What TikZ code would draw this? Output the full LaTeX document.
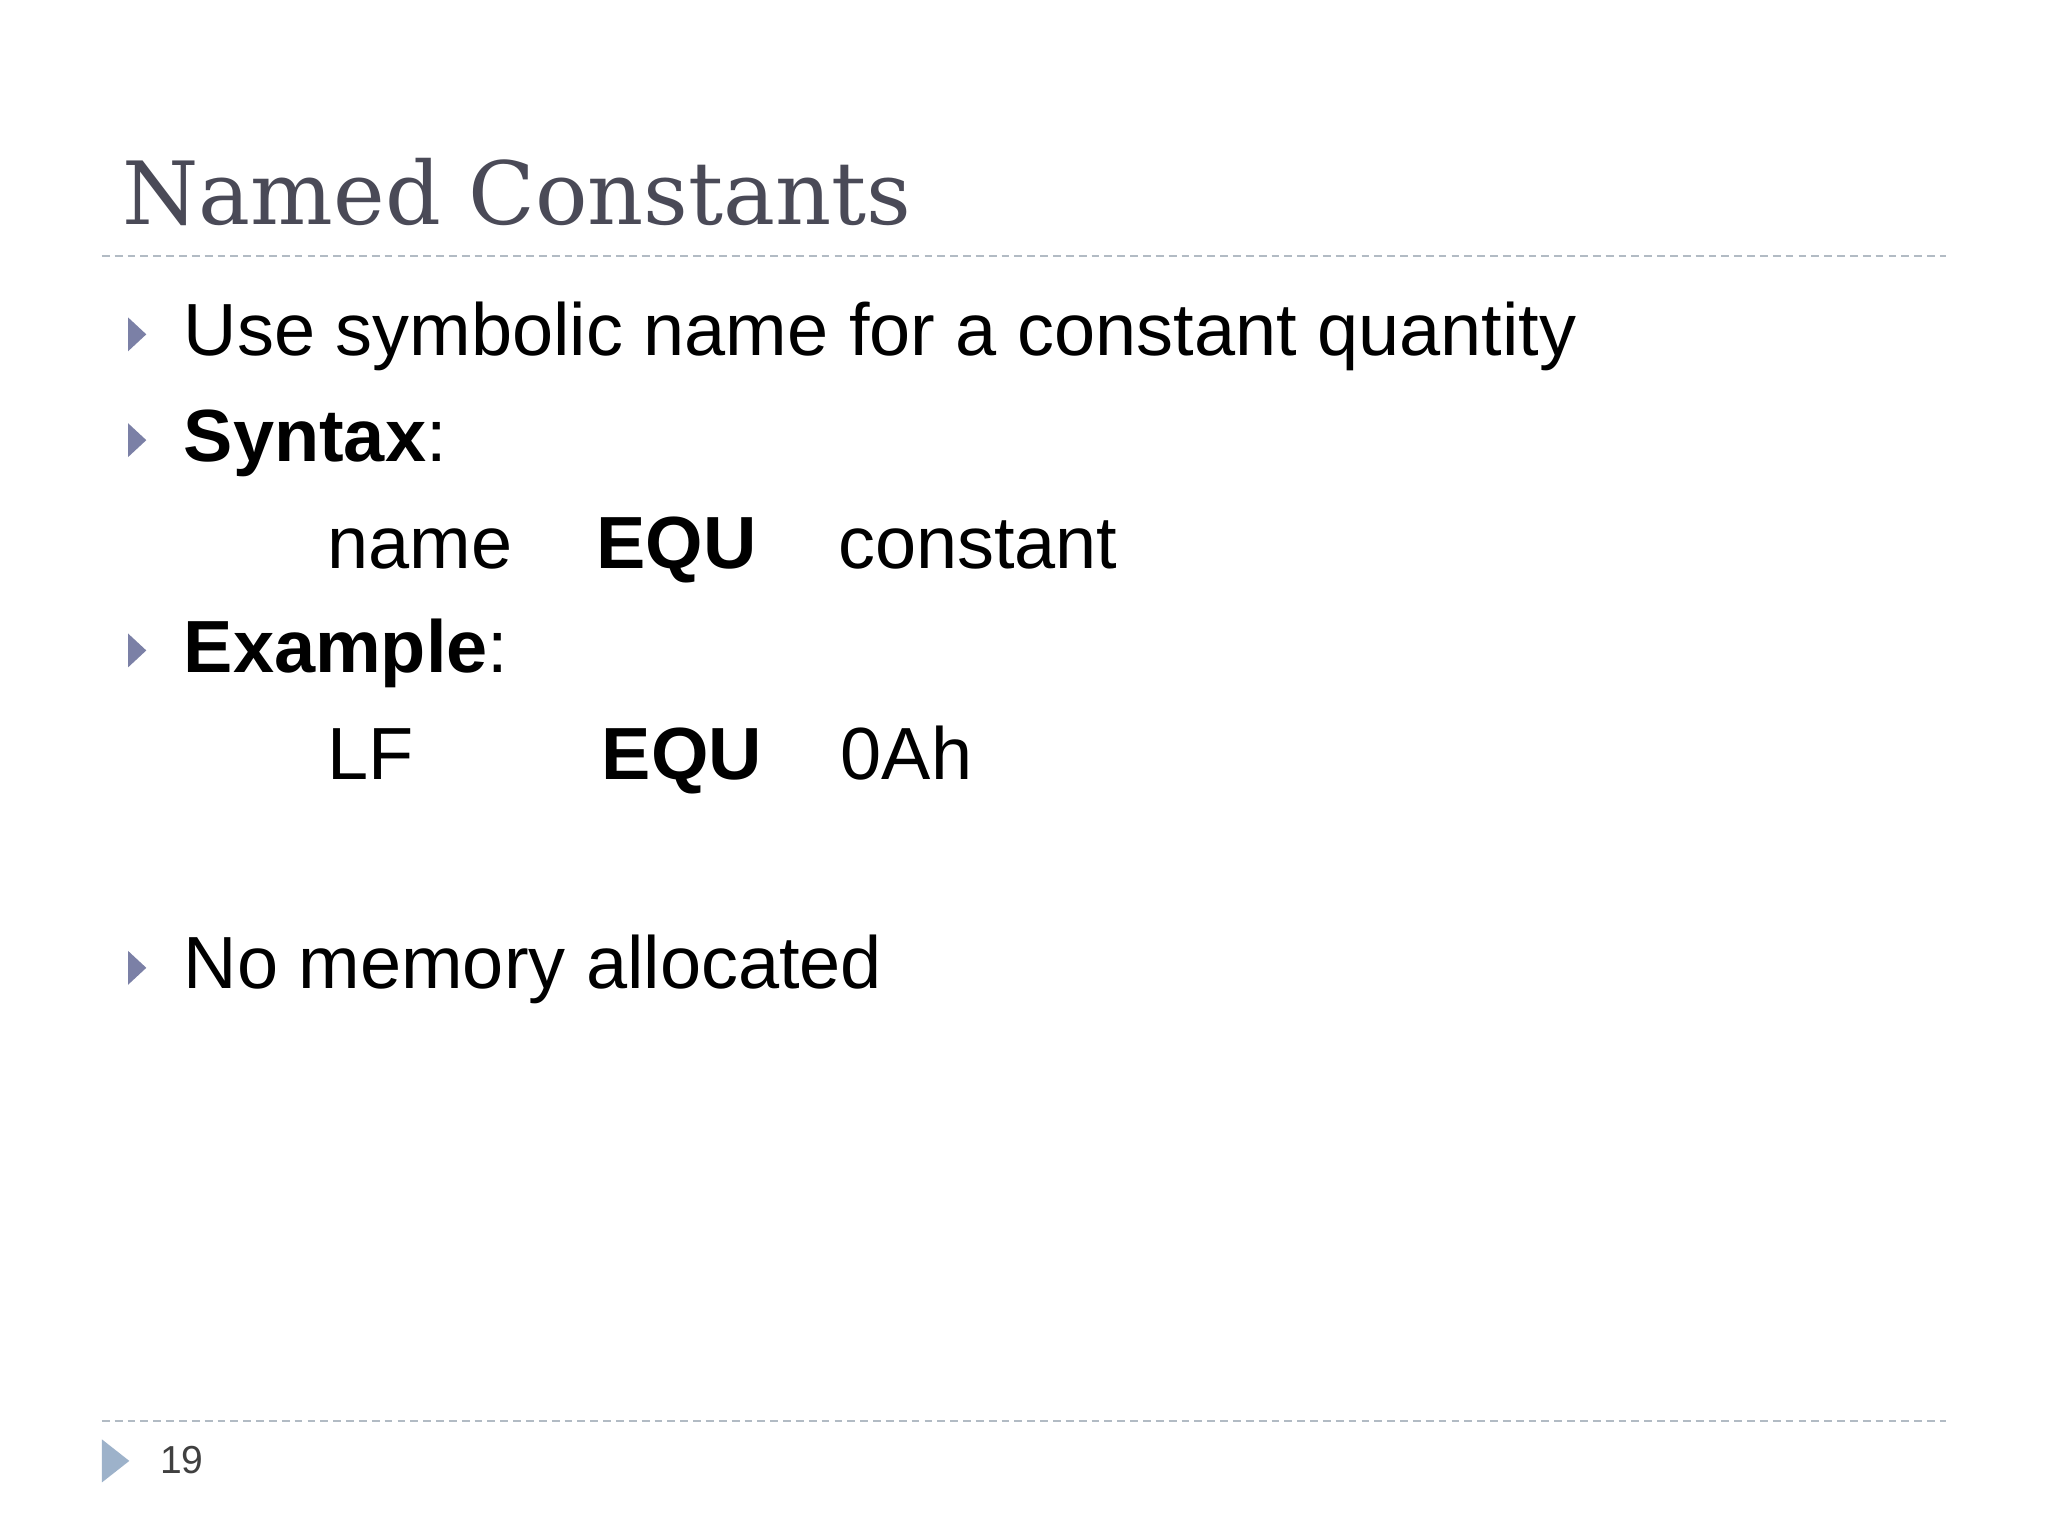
\documentclass[tikz,border=0pt]{standalone}
\usepackage{fontspec}
\setmainfont{Liberation Sans}
\newfontfamily\titlefont{DejaVu Serif}
\definecolor{titlegrey}{HTML}{4A4A57}
\definecolor{bulletblue}{HTML}{7B80A6}
\definecolor{rulegrey}{HTML}{B2BBC4}
\definecolor{footblue}{HTML}{9DB2CA}
\definecolor{numgrey}{HTML}{404040}
\begin{document}
\begin{tikzpicture}
\tikzset{every node/.style={inner sep=0pt,anchor=base west},
  body/.style={font=\fontsize{16.1}{19}\selectfont},
  rulerline/.style={draw=rulegrey,line width=0.5pt,dash pattern=on 1.7pt off 1.1pt}}
\useasboundingbox[fill=white] (0,0) rectangle (15.68,-11.76);
% title and rules
\node[font=\titlefont\fontsize{19}{22}\selectfont,text=titlegrey] (title) at (0.93,-1.72) {Named Constants};
\coordinate (topL) at (0.78,-1.96);
\coordinate (topR) at (14.90,-1.96);
\coordinate (botL) at (0.78,-10.88);
\coordinate (botR) at (14.90,-10.88);
\draw[rulerline] (topL) -- (topR);
\draw[rulerline] (botL) -- (botR);
% bullets
\foreach \y in {2.56,3.37,4.98,7.41}
  \fill[bulletblue] (0.98,-\y+0.13) -- (1.12,-\y) -- (0.98,-\y-0.13) -- cycle;
\node[body] (use) at (1.40,-2.72) {Use symbolic name for a constant quantity};
\node[body] (syntax) at (1.40,-3.53) {\textbf{Syntax}:};
\node[body] (sname) at (2.50,-4.35) {name};
\node[body] (sequ) at (4.56,-4.35) {\textbf{EQU}};
\node[body] (sconst) at (6.41,-4.35) {constant};
\node[body] (example) at (1.40,-5.15) {\textbf{Example}:};
\node[body] (lf) at (2.50,-5.97) {LF};
\node[body] (lfequ) at (4.60,-5.97) {\textbf{EQU}};
\node[body] (lfval) at (6.43,-5.97) {0Ah};
\node[body] (nomem) at (1.40,-7.57) {No memory allocated};
% footer
\fill[footblue] (0.78,-11.02) -- (0.99,-11.185) -- (0.78,-11.35) -- cycle;
\node[font=\fontsize{8.5}{10}\selectfont,text=numgrey] (page) at (1.22,-11.28) {19};
\end{tikzpicture}
\end{document}
